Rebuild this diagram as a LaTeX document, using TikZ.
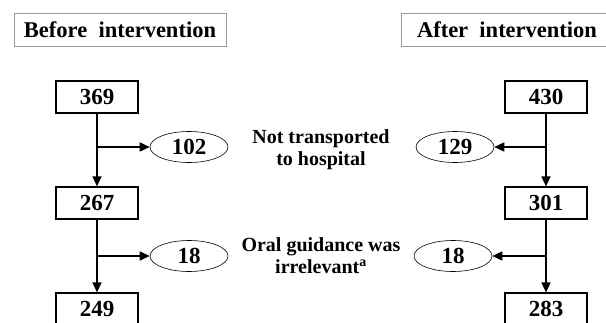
\documentclass[tikz,border=0pt]{standalone}
\usepackage{fontspec}
\setmainfont{Liberation Serif}
\usetikzlibrary{arrows.meta,shapes.geometric}
\tikzset{numbox/.style={draw,line width=1.2pt,minimum width=82pt,minimum height=32pt,inner sep=0pt,font=\fontsize{23}{27}\selectfont\bfseries}}
\tikzset{cntell/.style={ellipse,draw,line width=0.6pt,minimum width=78pt,minimum height=31pt,inner sep=0pt,font=\fontsize{23}{27}\selectfont\bfseries}}
\tikzset{headbox/.style={draw=gray!80,line width=0.8pt,minimum width=212pt,minimum height=33pt,inner sep=0pt,font=\fontsize{22.5}{26}\selectfont\bfseries}}
\tikzset{note/.style={align=center,inner sep=0pt,font=\fontsize{20}{22}\selectfont\bfseries}}
\tikzset{flow/.style={line width=1.6pt,-{Triangle[length=10pt,width=9pt]}}}

\begin{document}
\begin{tikzpicture}
                [x=1pt,y=-1pt]
                \useasboundingbox (0,0) rectangle (606,322);
                \node [headbox] (hb) at (120,29.5) {Before\ \ intervention};
                \node [headbox] (ha) at (507,29.5) {After\ \ intervention};
                
                \node [numbox] (b1) at (97,97)  {369};
                \node [numbox] (b2) at (97,203) {267};
                \node [numbox] (b3) at (97,309) {249};
                \node [cntell] (e1) at (189,147) {102};
                \node [cntell] (e2) at (189,256) {18};
                
                \node [numbox] (a1) at (546,97)  {430};
                \node [numbox] (a2) at (546,203) {301};
                \node [numbox] (a3) at (546,309) {283};
                \node [cntell] (f1) at (455,147) {129};
                \node [cntell] (f2) at (453,256) {18};
                
                \node [note] (l1) at (321,150) {Not transported\\to hospital};
                \node [note] (l2) at (321,256) {Oral guidance was\\irrelevant\textsuperscript{a}};
                
                \coordinate (j1) at (b1 |- e1);
                \coordinate (j2) at (b2 |- e2);
                \coordinate (k1) at (a1 |- f1);
                \coordinate (k2) at (a2 |- f2);
                
                \foreach \from/\to in {b1/b2,b2/b3,a1/a2,a2/a3}
                \draw [flow] (\from) -- (\to);
                
                \foreach \from/\to in {j1/e1,j2/e2,k1/f1,k2/f2}
                \draw [flow] (\from) -- (\to);
            \end{tikzpicture}
\end{document}
